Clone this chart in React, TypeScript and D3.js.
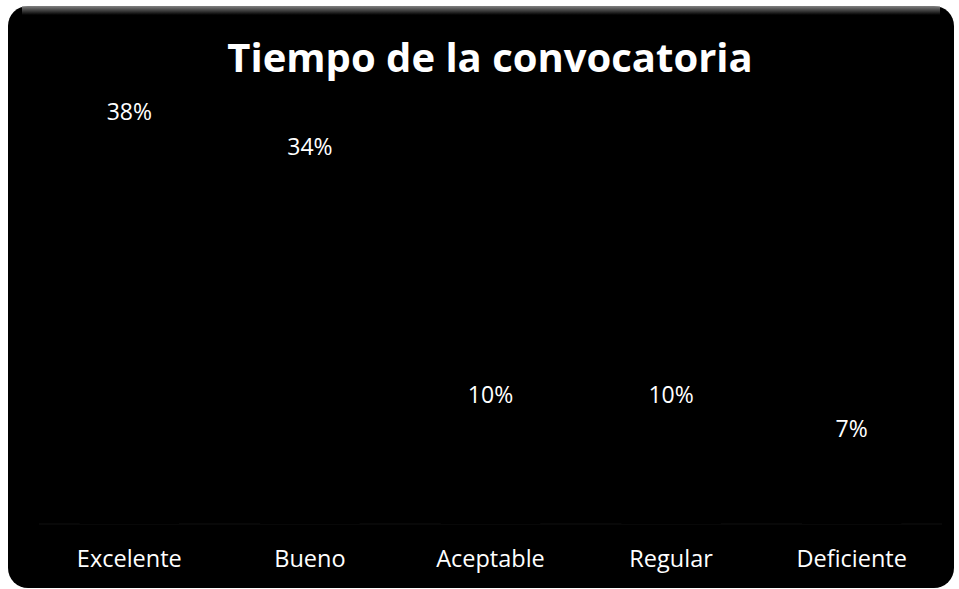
import React from "react";
import * as d3 from "d3";

const categories = ["Excelente", "Bueno", "Aceptable", "Regular", "Deficiente"];
const values = [37.9, 34.5, 10.3, 10.3, 6.9];
const valueLabels = ["38%", "34%", "10%", "10%", "7%"];
const title = "Tiempo de la convocatoria";

const W = 959;
const H = 589;

export default function App() {
  const x = d3
    .scaleBand<string>()
    .domain(categories)
    .range([39, 942])
    .paddingInner(0.45)
    .paddingOuter(0.225);
  const y = d3.scaleLinear().domain([0, 40]).range([524, 115]);
  const font = "'Open Sans', 'Noto Sans', sans-serif";
  return (
    <svg width={W} height={H} style={{ position: "absolute", left: 0, top: 0, background: "#fff" }}>
      <defs>
        <linearGradient id="topfade" x1="0" y1="0" x2="0" y2="1">
          <stop offset="0" stopColor="#a0a0a0" />
          <stop offset="1" stopColor="#000" />
        </linearGradient>
      </defs>
      <rect x={8} y={6} width={946} height={582} rx={20} ry={20} fill="#000" />
      <rect x={22} y={6} width={918} height={9} fill="url(#topfade)" opacity={0.8} />
      <text x={490} y={72} textAnchor="middle" fill="#fff" fontFamily={font} fontWeight={700} fontSize={40}>
        {title}
      </text>
      <line x1={39} x2={942} y1={y(0)} y2={y(0)} stroke="#111" strokeWidth={1} />
      {categories.map((c, i) => (
        <g key={c}>
          <rect x={x(c)} y={y(values[i])} width={x.bandwidth()} height={y(0) - y(values[i])} fill="#000" />
          <text
            x={(x(c) as number) + x.bandwidth() / 2}
            y={y(values[i]) - 16}
            textAnchor="middle"
            fill="#fff"
            fontFamily={font}
            fontSize={23}
          >
            {valueLabels[i]}
          </text>
          <text
            x={(x(c) as number) + x.bandwidth() / 2}
            y={567}
            textAnchor="middle"
            fill="#fff"
            fontFamily={font}
            fontSize={23.5}
          >
            {c}
          </text>
        </g>
      ))}
    </svg>
  );
}
